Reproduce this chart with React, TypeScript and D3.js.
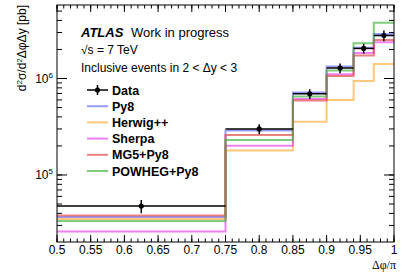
import React from "react";
import * as d3 from "d3";

const binEdges = [0.5, 0.75, 0.85, 0.9, 0.94, 0.97, 1.0];
const dataValues = [4.77e4, 3.0e5, 6.94e5, 1.285e6, 2.05e6, 2.79e6];
const dataErrors = [7.5e3, 3.5e4, 8e4, 1.5e5, 2.4e5, 3.5e5];
const py8Values = [3.67e4, 2.89e5, 7.16e5, 1.33e6, 2.08e6, 2.89e6];
const herwigValues = [3.5e4, 1.79e5, 3.57e5, 5.99e5, 9.42e5, 1.41e6];
const sherpaValues = [2.6e4, 2.01e5, 6.13e5, 1.11e6, 1.84e6, 2.37e6];
const mg5Values = [3.8e4, 2.6e5, 5.92e5, 1.06e6, 1.73e6, 2.51e6];
const powhegValues = [3.34e4, 2.31e5, 6.51e5, 1.21e6, 2.32e6, 3.79e6];

const xTickLabels = ["0.5", "0.55", "0.6", "0.65", "0.7", "0.75", "0.8", "0.85", "0.9", "0.95", "1"];

const series = [
  { name: "Py8", values: py8Values, color: "rgb(100,100,255)" },
  { name: "Herwig++", values: herwigValues, color: "rgb(255,170,50)" },
  { name: "Sherpa", values: sherpaValues, color: "rgb(230,60,230)" },
  { name: "MG5+Py8", values: mg5Values, color: "rgb(225,60,60)" },
  { name: "POWHEG+Py8", values: powhegValues, color: "rgb(60,175,60)" },
];

const W = 407;
const H = 276;
const M = { left: 57, right: 394, top: 5, bottom: 242 };
const FONT = "'Liberation Sans', Arial, Helvetica, sans-serif";

export default function App() {
  const x = d3.scaleLinear().domain([0.5, 1.0]).range([M.left, M.right]);
  const y = d3.scaleLog().domain([2.02e4, 5.78e6]).range([M.bottom, M.top]);

  const stepLine = d3
    .line<[number, number]>()
    .x((d) => x(d[0]))
    .y((d) => y(d[1]))
    .curve(d3.curveStepAfter);

  const histPoints = (vals: number[]): [number, number][] => {
    const pts: [number, number][] = vals.map((v, i) => [binEdges[i], v]);
    pts.push([binEdges[binEdges.length - 1], vals[vals.length - 1]]);
    return pts;
  };

  const xMajor = d3.range(0, 11).map((i) => 0.5 + i * 0.05);
  const xMinor = d3.range(0, 51).map((i) => 0.5 + i * 0.01);
  const yDomain = y.domain();
  const yMinor: number[] = [];
  for (let e = 4; e <= 6; e++) {
    for (let m = 1; m <= 9; m++) {
      const v = m * Math.pow(10, e);
      if (v >= yDomain[0] && v <= yDomain[1]) yMinor.push(v);
    }
  }
  const yMajor = [1e5, 1e6];

  const xMajLen = 7;
  const xMinLen = 3.5;
  const yMajLen = 10;
  const yMinLen = 5;

  const legendX0 = 87;
  const legendX1 = 108;
  const legendTextX = 112;
  const legendY0 = 90;
  const legendDY = 16.2;

  return (
    <svg
      width={W}
      height={H}
      style={{ position: "absolute", left: 0, top: 0, background: "white" }}
      fontFamily={FONT}
    >
      <rect x={0} y={0} width={W} height={H} fill="white" />

      {series.map((s) => (
        <path
          key={s.name}
          d={stepLine(histPoints(s.values)) || ""}
          fill="none"
          stroke={s.color}
          strokeOpacity={0.65}
          strokeWidth={2}
        />
      ))}

      {dataValues.map((v, i) => {
        const cx = x((binEdges[i] + binEdges[i + 1]) / 2);
        return (
          <g key={i}>
            <line x1={x(binEdges[i])} x2={x(binEdges[i + 1])} y1={y(v)} y2={y(v)} stroke="black" strokeWidth={1.5} />
            <line x1={cx} x2={cx} y1={y(v - dataErrors[i])} y2={y(v + dataErrors[i])} stroke="black" strokeWidth={1.5} />
            <circle cx={cx} cy={y(v)} r={2.6} fill="black" />
          </g>
        );
      })}

      <rect
        x={M.left}
        y={M.top}
        width={M.right - M.left}
        height={M.bottom - M.top}
        fill="none"
        stroke="black"
        strokeWidth={1}
      />

      {xMinor.map((t, i) => (
        <g key={"xm" + i}>
          <line x1={x(t)} x2={x(t)} y1={M.bottom} y2={M.bottom - xMinLen} stroke="black" />
          <line x1={x(t)} x2={x(t)} y1={M.top} y2={M.top + xMinLen} stroke="black" />
        </g>
      ))}
      {xMajor.map((t, i) => (
        <g key={"xM" + i}>
          <line x1={x(t)} x2={x(t)} y1={M.bottom} y2={M.bottom - xMajLen} stroke="black" />
          <line x1={x(t)} x2={x(t)} y1={M.top} y2={M.top + xMajLen} stroke="black" />
          <text x={x(t)} y={M.bottom + 11.5} textAnchor="middle" fontSize={12}>
            {xTickLabels[i]}
          </text>
        </g>
      ))}

      {yMinor.map((t, i) => (
        <g key={"ym" + i}>
          <line x1={M.left} x2={M.left + yMinLen} y1={y(t)} y2={y(t)} stroke="black" />
          <line x1={M.right} x2={M.right - yMinLen} y1={y(t)} y2={y(t)} stroke="black" />
        </g>
      ))}
      {yMajor.map((t, i) => (
        <g key={"yM" + i}>
          <line x1={M.left} x2={M.left + yMajLen} y1={y(t)} y2={y(t)} stroke="black" />
          <line x1={M.right} x2={M.right - yMajLen} y1={y(t)} y2={y(t)} stroke="black" />
          <text x={M.left - 4} y={y(t) + 4} textAnchor="end" fontSize={12}>
            10
            <tspan dy={-5} fontSize={8}>
              {String(Math.round(Math.log10(t)))}
            </tspan>
          </text>
        </g>
      ))}

      <text x={M.right + 2} y={M.bottom + 27} textAnchor="end" fontSize={12} fontFamily="'Liberation Serif', 'Times New Roman', serif">
        Δφ/π
      </text>
      <text transform={`translate(26, ${M.top}) rotate(-90)`} textAnchor="end" fontSize={12}>
        d<tspan dy={-4} fontSize={8}>2</tspan>
        <tspan dy={4}>σ/d</tspan>
        <tspan dy={-4} fontSize={8}>2</tspan>
        <tspan dy={4}>ΔφΔy [pb]</tspan>
      </text>

      <text x={81} y={37} fontSize={13} fontWeight="bold" fontStyle="italic">
        ATLAS
      </text>
      <text x={131} y={37} fontSize={13}>
        Work in progress
      </text>
      <text x={81} y={54} fontSize={12}>
        √s = 7 TeV
      </text>
      <text x={81} y={72} fontSize={12}>
        Inclusive events in 2 &lt; Δy &lt; 3
      </text>

      <g>
        <line x1={legendX0} x2={legendX1} y1={legendY0} y2={legendY0} stroke="black" strokeWidth={1.5} />
        <line x1={(legendX0 + legendX1) / 2} x2={(legendX0 + legendX1) / 2} y1={legendY0 - 5} y2={legendY0 + 5} stroke="black" strokeWidth={1.5} />
        <circle cx={(legendX0 + legendX1) / 2} cy={legendY0} r={2.6} fill="black" />
        <text x={legendTextX} y={legendY0 + 4.5} fontSize={12.5} fontWeight="bold">
          Data
        </text>
        {series.map((s, i) => {
          const ly = legendY0 + legendDY * (i + 1);
          return (
            <g key={s.name}>
              <line x1={legendX0} x2={legendX1} y1={ly} y2={ly} stroke={s.color} strokeOpacity={0.65} strokeWidth={2} />
              <text x={legendTextX} y={ly + 4.5} fontSize={12.5} fontWeight="bold">
                {s.name}
              </text>
            </g>
          );
        })}
      </g>
    </svg>
  );
}
